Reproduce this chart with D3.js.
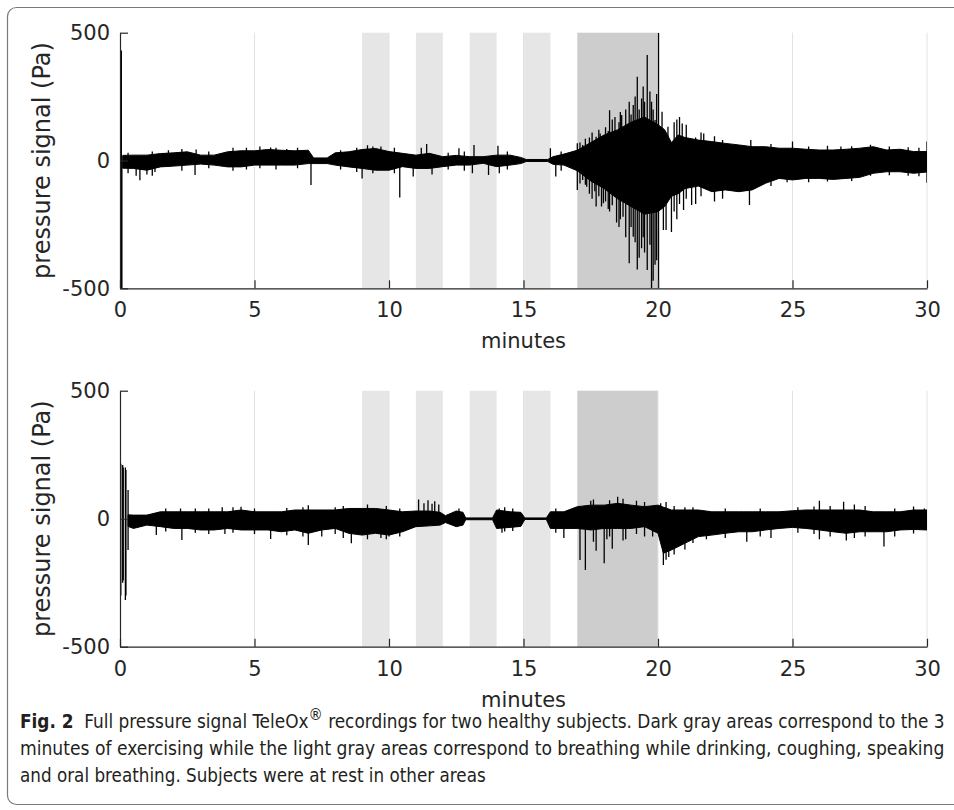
<!DOCTYPE html>
<html>
<head>
<meta charset="utf-8">
<script src="https://cdn.jsdelivr.net/npm/d3@7"></script>
<style>
  body { margin: 0; background: #fff; }
  svg { display: block; }
  .tick text { font-family: "DejaVu Sans", sans-serif; fill: #262626; }
</style>
</head>
<body>
<div id="chart-area"></div>
<script>
// subject 1: dense band of the signal (minutes, Pa)
var s1Times = [0.1, 0.5, 1, 1.5, 2, 2.5, 3, 3.5, 4, 4.5, 5, 5.5, 6, 6.5, 7, 7.2, 7.7, 8, 8.5, 9,
  9.5, 10, 10.5, 11, 11.5, 12, 12.5, 13, 13.5, 14, 14.5, 14.9, 15.1, 15.9, 16.1, 16.5, 17, 17.5, 18, 18.5,
  19, 19.5, 20, 20.25, 20.5, 20.75, 21, 21.5, 22, 22.5, 23, 23.5, 24, 24.5, 25, 25.5, 26, 26.5, 27, 27.5,
  28, 28.5, 29, 29.5, 30];
var s1High = [20, 21, 21, 27, 30, 34, 21, 21, 34, 38, 38, 43, 40, 38, 40, 10, 10, 30, 34, 43,
  47, 35, 28, 21, 28, 15, 20, 15, 15, 21, 21, 12, 4, 4, 15, 25, 40, 70, 100, 120,
  150, 170, 140, 120, 70, 100, 90, 80, 74, 67, 61, 54, 54, 48, 48, 44, 41, 41, 44, 48,
  54, 41, 44, 35, 35];
var s1Low = [-30, -31, -38, -25, -22, -18, -14, -18, -25, -25, -18, -18, -18, -18, -12, -12, -12, -18, -25, -31,
  -38, -38, -24, -31, -31, -24, -18, -18, -11, -24, -18, -12, -4, -4, -15, -18, -40, -80, -110, -150,
  -180, -210, -200, -180, -140, -130, -110, -100, -122, -115, -122, -115, -89, -70, -76, -70, -70, -74, -70, -66,
  -50, -44, -44, -50, -45];

// subject 1: single peaks sticking out of the band [minute, Pa]
var s1Peaks = [[0.01, -500], [0.01, 340], [0.03, -500], [0.03, 340], [0.05, 430], [0.05, -500], [0.07, -500],
  [0.3, 30], [0.3, -50], [0.6, -60], [0.74, -77], [1.0, -55], [1.2, 35], [1.2, -60], [1.3, -45],
  [1.8, 40], [2.3, 45], [2.3, -40], [2.79, -57], [2.83, 43], [3.3, 35], [3.3, -30], [4.2, 50], [4.2, -40],
  [4.7, 50], [4.7, -35], [5.2, 55], [5.2, -30], [5.6, 51], [5.8, 50], [5.8, -35], [6.2, 45], [6.6, 50],
  [6.6, -30], [7.1, -96], [8.2, 40], [8.2, -35], [8.8, 50], [8.8, -45], [9.0, -70], [9.2, 60],
  [9.4, 55], [9.4, -50], [9.7, 55], [10.2, 50], [10.2, -50], [10.4, -145], [10.9, -63], [11.2, 50],
  [11.4, 65], [11.6, -55], [12.2, 30], [12.2, -35], [12.6, 48], [12.8, 35], [12.8, -40],
  [13.1, -50], [13.16, 61], [13.7, -57], [14.05, 58], [14.1, -50], [14.4, 35], [14.4, -35],
  [16.0, 48], [16.2, -63], [16.4, 35], [16.4, -40],
  [17.0, -115], [17.0, 67], [17.1, 70], [17.1, -90], [17.2, 61], [17.2, -76], [17.3, 85], [17.3, -95],
  [17.35, -103], [17.45, 90], [17.45, -130], [17.55, 110], [17.55, -150], [17.65, 75], [17.65, -120],
  [17.7, -180], [17.7, 93], [17.8, 120], [17.8, -140], [17.85, 106], [17.9, 95], [17.9, -180],
  [17.97, -167], [18.05, 130], [18.05, -160], [18.15, 115], [18.15, -190], [18.2, 197], [18.2, -200],
  [18.3, 160], [18.3, -175], [18.4, 170], [18.46, -243], [18.55, 150], [18.55, -260], [18.6, 190],
  [18.6, -230], [18.65, 178], [18.7, -220], [18.8, 200], [18.8, -300], [18.93, 230], [18.93, -402],
  [19.0, 180], [19.0, -260], [19.08, 217], [19.08, -298], [19.15, 250], [19.15, -320],
  [19.23, 328], [19.23, -426], [19.3, 200], [19.3, -380], [19.39, 243], [19.39, -343],
  [19.45, 290], [19.45, -300], [19.5, 230], [19.5, -360], [19.6, 413], [19.6, -428],
  [19.7, 270], [19.7, -330], [19.76, -500], [19.76, 230], [19.82, 200], [19.82, -470],
  [19.89, 158], [19.89, -408], [19.95, 260], [19.95, -390], [20.02, 500], [20.02, -500],
  [20.15, 191], [20.2, -272], [20.3, -272], [20.37, 132], [20.5, -280], [20.6, 150], [20.6, -200],
  [20.7, 160], [20.7, -230], [20.8, 170], [20.8, -170], [20.9, 145], [20.95, -194], [21.05, 140],
  [21.05, -150], [21.25, -174], [21.4, 90], [21.4, -170], [21.6, 110], [21.6, -140], [21.7, 106],
  [22.1, 95], [22.1, -160], [22.4, 80], [22.4, -150], [23.4, -174], [23.45, 80], [24.2, 65],
  [24.2, -100], [24.8, -85], [25.0, 74], [25.6, 55], [25.6, -85], [26.3, 58], [26.3, -82],
  [26.8, 55], [27.2, 56], [27.2, -80], [27.9, 62], [27.9, -60], [28.6, 55], [28.6, -58],
  [29.3, 52], [29.3, -60], [29.7, 50], [29.7, -62], [30.0, 74], [30.0, -87]];

// subject 2: dense band of the signal (minutes, Pa)
var s2Times = [0.3, 0.5, 1, 1.5, 2, 2.5, 3, 3.5, 4, 4.5, 5, 5.5, 6, 6.5, 7, 7.5, 8, 8.5, 9, 9.5,
  10, 10.5, 11, 11.5, 11.9, 12.1, 12.5, 12.75, 12.85, 13.85, 14, 14.5, 14.9, 15.05, 15.85, 16, 16.5, 17, 17.5, 18,
  18.5, 19, 19.5, 20, 20.2, 20.5, 21, 21.5, 22, 22.5, 23, 23.5, 24, 24.5, 25, 25.5, 26, 26.5, 27, 27.5,
  28, 28.5, 29, 29.5, 30];
var s2High = [15, 14, 14, 27, 27, 27, 27, 27, 27, 34, 27, 27, 27, 34, 34, 34, 34, 40, 40, 40,
  34, 27, 30, 30, 25, 12, 30, 25, 3, 3, 34, 27, 25, 3, 3, 27, 27, 47, 53, 53,
  60, 53, 47, 53, 45, 34, 34, 34, 27, 27, 27, 27, 27, 27, 31, 34, 34, 34, 34, 34,
  27, 27, 27, 34, 34];
var s2Low = [-30, -38, -25, -31, -38, -38, -44, -44, -38, -44, -44, -44, -51, -44, -57, -44, -38, -57, -64, -57,
  -64, -51, -31, -28, -25, -15, -31, -25, -4, -4, -38, -34, -30, -3, -3, -38, -38, -38, -44, -38,
  -38, -38, -31, -57, -135, -122, -96, -70, -64, -57, -51, -51, -44, -38, -34, -38, -44, -51, -57, -51,
  -51, -51, -44, -42, -44];

var s2Peaks = [[0.01, 220], [0.01, -330], [0.03, 215], [0.03, -300], [0.1, 210], [0.1, -250],
  [0.12, 200], [0.12, -240], [0.2, 200], [0.2, -318], [0.22, 190], [0.22, -300],
  [0.3, 112], [0.3, -122], [1.35, -64], [1.7, 40], [1.7, -50], [2.25, 40], [2.3, -83],
  [2.8, 40], [2.8, -55], [3.3, 40], [3.3, -60], [3.8, 45], [3.9, -60], [4.2, 45], [4.2, -55],
  [4.5, 47], [5.0, 40], [5.0, -60], [5.6, -79], [6.2, 42], [6.2, -65], [6.8, 45], [6.8, -70],
  [7.0, -103], [7.0, 53], [7.5, -70], [8.0, 45], [8.0, -60], [8.3, 50], [8.3, -75], [8.6, -96],
  [9.2, 55], [9.2, -80], [9.7, -75], [9.9, 50], [9.9, -80], [10.0, -70], [10.4, 40], [10.4, -70],
  [11.1, 75], [11.3, 60], [11.45, 72], [11.6, 58], [11.7, 68], [11.85, 55], [12.6, 40],
  [14.1, 40], [14.2, -55], [14.3, 45], [14.3, -50], [14.6, 40], [14.6, -48], [16.2, 40],
  [16.2, -55], [16.5, -75], [17.1, -161], [17.3, -200], [17.5, 70], [17.6, 75], [17.6, -90],
  [17.7, -125], [18.0, -174], [18.1, -80], [18.2, 72], [18.2, -70], [18.3, -117], [18.5, 86],
  [18.7, 78], [18.7, -85], [18.8, -80], [19.2, 70], [19.2, -60], [19.5, 65], [19.5, -70],
  [19.8, -70], [20.1, 60], [20.2, -181], [20.3, 65], [20.3, -160], [20.4, -150], [20.6, 50],
  [20.6, -140], [21.0, 45], [21.0, -120], [21.3, 45], [21.3, -95], [21.8, -80], [22.5, 40],
  [22.5, -75], [23.3, -90], [23.8, 40], [23.8, -70], [24.2, -75], [25.2, 45], [25.2, -55],
  [25.8, 48], [25.8, -60], [26.0, 70], [26.0, -80], [26.4, 50], [26.4, -70], [26.9, 66],
  [27.0, -85], [27.3, 55], [27.3, -75], [27.7, 50], [27.7, -70], [28.4, -109], [28.8, 40],
  [28.8, -70], [29.5, 48], [29.5, -58], [29.9, 40]];

// shaded activity periods (minutes)
var lightPeriods = [[9, 10], [11, 12], [13, 14], [15, 16]];
var darkPeriods = [[17, 20]];

var xTicks = [0, 5, 10, 15, 20, 25, 30];
var yTicks = [-500, 0, 500];

var captionLines = [
  [{ t: "Fig. 2", b: true }, { t: "  Full pressure signal TeleOx" }, { t: "\u00AE", sup: true },
   { t: " recordings for two healthy subjects. Dark gray areas correspond to the 3", after: true }],
  [{ t: "minutes of exercising while the light gray areas correspond to breathing while drinking, coughing, speaking" }],
  [{ t: "and oral breathing. Subjects were at rest in other areas" }]
];

var W = 954, H = 810;
var svg = d3.select("#chart-area").append("svg")
  .attr("width", W)
  .attr("height", H);

// figure frame
svg.append("rect")
  .attr("x", 7.5).attr("y", 7.5)
  .attr("width", 980).attr("height", 797)
  .attr("rx", 9)
  .attr("fill", "none")
  .attr("stroke", "#7a7a7a")
  .attr("stroke-width", 1.2);

var x = d3.scaleLinear().domain([0, 30]).range([120, 927]);

function drawPanel(top, bottom, times, high, low, peaks, id) {
  var y = d3.scaleLinear().domain([-500, 500]).range([bottom, top]);
  var g = svg.append("g");

  svg.append("clipPath").attr("id", "clip" + id)
    .append("rect")
    .attr("x", x(0)).attr("y", top)
    .attr("width", x(30) - x(0)).attr("height", bottom - top);

  g.selectAll(".light").data(lightPeriods).enter().append("rect")
    .attr("x", function(d){ return x(d[0]); })
    .attr("width", function(d){ return x(d[1]) - x(d[0]); })
    .attr("y", top).attr("height", bottom - top)
    .attr("fill", "#e6e6e6");

  g.selectAll(".dark").data(darkPeriods).enter().append("rect")
    .attr("x", function(d){ return x(d[0]); })
    .attr("width", function(d){ return x(d[1]) - x(d[0]); })
    .attr("y", top).attr("height", bottom - top)
    .attr("fill", "#cdcdcd");

  // vertical grid
  g.selectAll(".grid").data(xTicks.slice(1)).enter().append("line")
    .attr("x1", function(d){ return x(d); })
    .attr("x2", function(d){ return x(d); })
    .attr("y1", top).attr("y2", bottom)
    .attr("stroke", "#e3e3e3")
    .attr("stroke-width", 1);

  var sig = g.append("g").attr("clip-path", "url(#clip" + id + ")");

  var band = times.map(function(t, i){ return [t, high[i], low[i]]; });
  var area = d3.area()
    .x(function(d){ return x(d[0]); })
    .y0(function(d){ return y(d[2]); })
    .y1(function(d){ return y(d[1]); });

  sig.append("path")
    .datum(band)
    .attr("d", area)
    .attr("fill", "#000")
    .attr("stroke", "#000")
    .attr("stroke-width", 1);

  sig.selectAll(".peak").data(peaks).enter().append("line")
    .attr("x1", function(d){ return x(d[0]); })
    .attr("x2", function(d){ return x(d[0]); })
    .attr("y1", y(0))
    .attr("y2", function(d){ return y(d[1]); })
    .attr("stroke", "#000")
    .attr("stroke-width", 1.3);

  var xAxis = d3.axisBottom(x)
    .tickValues(xTicks)
    .tickSizeInner(-8).tickSizeOuter(0)
    .tickPadding(14)
    .tickFormat(String);

  var xg = svg.append("g")
    .attr("transform", "translate(0," + bottom + ")")
    .call(xAxis);

  var yAxis = d3.axisLeft(y)
    .tickValues(yTicks)
    .tickSizeInner(-8).tickSizeOuter(0)
    .tickPadding(10)
    .tickFormat(String);

  var yg = svg.append("g")
    .attr("transform", "translate(" + x(0) + ",0)")
    .call(yAxis);

  [xg, yg].forEach(function(a){
    a.select(".domain").attr("stroke", "#262626").attr("stroke-width", 1.2);
    a.selectAll(".tick line").attr("stroke", "#262626").attr("stroke-width", 1.2);
    a.selectAll(".tick text").style("font-size", "21px");
  });

  svg.append("text")
    .attr("x", (x(0) + x(30)) / 2)
    .attr("y", bottom + 60)
    .attr("text-anchor", "middle")
    .style("font-family", "DejaVu Sans, sans-serif")
    .style("font-size", "21px")
    .attr("fill", "#262626")
    .text("minutes");

  svg.append("text")
    .attr("transform", "translate(50," + ((top + bottom) / 2) + ") rotate(-90)")
    .attr("text-anchor", "middle")
    .style("font-family", "DejaVu Sans, sans-serif")
    .style("font-size", "24px")
    .attr("fill", "#262626")
    .text("pressure signal (Pa)");
}

drawPanel(32.7, 288.3, s1Times, s1High, s1Low, s1Peaks, 1);
drawPanel(390.7, 646.7, s2Times, s2High, s2Low, s2Peaks, 2);

// caption
var baselines = [728, 755, 782];
var fitWidths = [925, 925, 466];
captionLines.forEach(function(parts, i){
  var lg = svg.append("g").attr("transform", "translate(20," + baselines[i] + ")");
  var txt = lg.append("text")
    .style("font-family", "'DejaVu Sans Condensed', sans-serif")
    .style("font-size", "19px")
    .attr("fill", "#231f20")
    .attr("xml:space", "preserve");
  parts.forEach(function(p){
    var ts = txt.append("tspan").text(p.t);
    if (p.b) ts.attr("font-weight", "bold");
    if (p.sup) ts.attr("dy", -8).style("font-size", "16px");
    if (p.after) ts.attr("dy", 8);
  });
  var w = txt.node().getComputedTextLength();
  lg.attr("transform", "translate(20," + baselines[i] + ") scale(" + (fitWidths[i] / w) + ",1)");
});
</script>
</body>
</html>
